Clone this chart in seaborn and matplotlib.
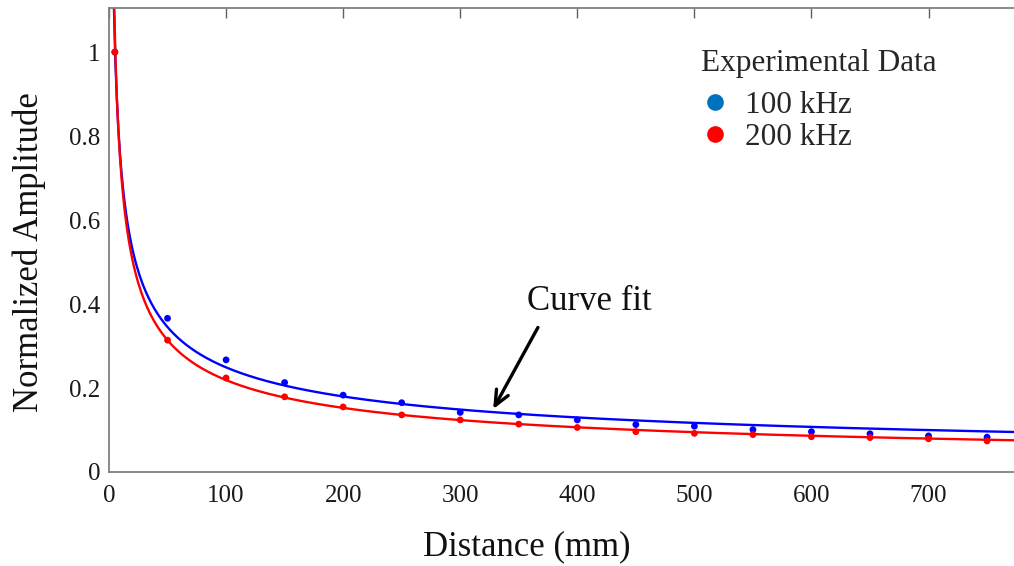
import matplotlib
matplotlib.use("Agg")
import matplotlib.pyplot as plt
from matplotlib.lines import Line2D
import numpy as np
import pandas as pd
import seaborn as sns

# measured points (normalized amplitude vs distance in mm)
DISTANCE = [5, 50, 100, 150, 200, 250, 300, 350, 400, 450, 500, 550, 600, 650, 700, 750]
AMP_100K = [1.0, 0.366, 0.267, 0.213, 0.183, 0.165, 0.142, 0.136, 0.124, 0.113,
            0.109, 0.101, 0.096, 0.091, 0.086, 0.083]
AMP_200K = [1.0, 0.314, 0.224, 0.179, 0.155, 0.136, 0.124, 0.114, 0.106, 0.096,
            0.092, 0.089, 0.084, 0.082, 0.079, 0.074]

# power-law fit  A * x^-b
FIT_100K = (2.17, 0.47)
FIT_200K = (2.40, 0.52)

LABELS = ["100 kHz", "200 kHz"]
POINT_COLORS = {"100 kHz": "#0000ff", "200 kHz": "#ff0000"}
LEGEND_COLORS = {"100 kHz": "#0072bd", "200 kHz": "#ff0000"}


def build_frames():
    pts = pd.concat([
        pd.DataFrame({"distance": DISTANCE, "amp": AMP_100K, "freq": LABELS[0]}),
        pd.DataFrame({"distance": DISTANCE, "amp": AMP_200K, "freq": LABELS[1]}),
    ], ignore_index=True)
    xs = np.linspace(1.5, 780, 600)
    fits = []
    for label, (a, b) in zip(LABELS, [FIT_100K, FIT_200K]):
        fits.append(pd.DataFrame({"distance": xs, "amp": a * xs ** (-b), "freq": label}))
    return pts, pd.concat(fits, ignore_index=True)


def main():
    sns.set_theme(style="white")
    plt.rcParams["font.family"] = ["Liberation Serif", "DejaVu Serif"]
    pts, fits = build_frames()

    fig = plt.figure(figsize=(10.14, 5.66), dpi=100)
    ax = fig.add_axes([109 / 1014, 1 - 472 / 566, 1 - 109 / 1014, (472 - 8) / 566])

    sns.lineplot(data=fits, x="distance", y="amp", hue="freq", palette=POINT_COLORS,
                 linewidth=1.7, legend=False, ax=ax, sort=False)
    sns.scatterplot(data=pts, x="distance", y="amp", hue="freq", palette=POINT_COLORS,
                    s=24, linewidth=0, legend=False, ax=ax, zorder=3)

    ax.set_xlim(0, 773)
    ax.set_ylim(0, 1.105)
    ax.set_xticks(range(0, 800, 100))
    ax.set_yticks([0, 0.2, 0.4, 0.6, 0.8, 1.0])
    ax.set_yticklabels(["0", "0.2", "0.4", "0.6", "0.8", "1"])

    for side in ["left", "bottom", "top"]:
        ax.spines[side].set_color("#808080")
        ax.spines[side].set_linewidth(1.3)
    ax.spines["right"].set_visible(False)
    ax.tick_params(direction="in", top=True, length=7, width=1, color="#606060",
                   labelsize=18, labelcolor="#1a1a1a")
    ax.tick_params(axis="x", pad=9)
    ax.tick_params(axis="y", pad=6)

    ax.set_xlabel("Distance (mm)", fontsize=25, color="#111111")
    ax.set_ylabel("Normalized Amplitude", fontsize=25, color="#111111")
    ax.xaxis.set_label_coords(0.462, -0.125)
    ax.yaxis.set_label_coords(-0.07, 0.475)

    ax.annotate("", xy=(327, 0.144), xytext=(367.5, 0.35),
                arrowprops=dict(arrowstyle="->,head_length=0.9,head_width=0.4", color="black", lw=2.4))
    ax.text(357, 0.386, "Curve fit", fontsize=25, color="#111111", ha="left", va="baseline")

    handles = [Line2D([], [], marker="o", ls="", markersize=12, markeredgewidth=0,
                      color=LEGEND_COLORS[lab]) for lab in LABELS]
    leg = ax.legend(handles, LABELS, title="Experimental Data", loc="upper left",
                    bbox_to_anchor=(0.637, 0.945), frameon=False, fontsize=22.5, title_fontsize=22.5,
                    borderpad=0, handlelength=0.9, handletextpad=0.5, labelspacing=0.12)
    leg._legend_box.align = "left"
    leg._legend_box.sep = 9

    fig.savefig("out.png", dpi=100)
    plt.close(fig)


if __name__ == "__main__":
    main()
